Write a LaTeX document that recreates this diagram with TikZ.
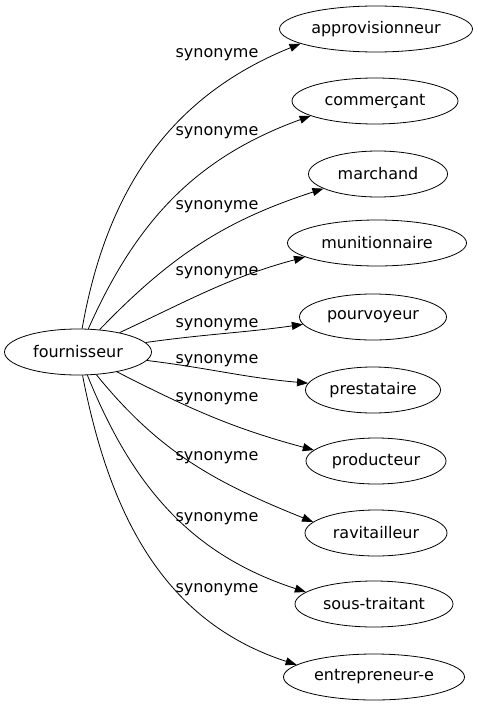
\documentclass[tikz,border=0pt]{standalone}
\usepackage{fontspec}
\setmainfont{DejaVu Sans}
\usetikzlibrary{shapes.geometric,arrows.meta}
\begin{document}
\begin{tikzpicture}[x=1pt,y=1pt,
  every node/.style={font=\fontsize{16}{18}\selectfont},
  term/.style={ellipse,draw,line width=0.8pt,inner xsep=0pt,inner ysep=0pt,minimum height=46pt},
  lbl/.style={inner sep=0pt,anchor=base},
  syn/.style={-{Triangle[length=11pt,width=8pt]},line width=0.8pt}]
\useasboundingbox (0,0) rectangle (477,-707);
\node[term,minimum width=147pt] (f) at (78,-352) {fournisseur};
\node[term,minimum width=193pt] (a) at (376,-29) {approvisionneur};
\node[term,minimum width=166pt] (b) at (375,-101) {commerçant};
\node[term,minimum width=139pt] (c) at (378,-174) {marchand};
\node[term,minimum width=179pt] (d) at (377,-243) {munitionnaire};
\node[term,minimum width=147pt] (e) at (373,-317) {pourvoyeur};
\node[term,minimum width=135pt] (g) at (373,-390) {prestataire};
\node[term,minimum width=140pt] (h) at (376,-461) {producteur};
\node[term,minimum width=142pt] (i) at (376,-533) {ravitailleur};
\node[term,minimum width=158pt] (j) at (374,-604) {sous-traitant};
\node[term,minimum width=181pt] (k) at (374,-677) {entrepreneur-e};
\node[lbl] (l1) at (217,-57) {synonyme};
\node[lbl] (l2) at (217,-135) {synonyme};
\node[lbl] (l3) at (217,-209) {synonyme};
\node[lbl] (l4) at (217,-275) {synonyme};
\node[lbl] (l5) at (217,-327) {synonyme};
\node[lbl] (l6) at (217,-363) {synonyme};
\node[lbl] (l7) at (217,-401) {synonyme};
\node[lbl] (l8) at (217,-460) {synonyme};
\node[lbl] (l9) at (217,-521) {synonyme};
\node[lbl] (l10) at (217,-592) {synonyme};
\draw[syn] (f.80) to[out=80,in=202] (a.191);
\draw[syn] (f.66) to[out=66,in=200] (b.193);
\draw[syn] (f.46) to[out=46,in=198] (c.195);
\draw[syn] (f.25) to[out=25,in=195] (d.191);
\draw[syn] (f.8) to[out=8,in=188] (e.186);
\draw[syn] (f.-7) to[out=-7,in=175] (g.174);
\draw[syn] (f.-27) to[out=-27,in=165] (h.170);
\draw[syn] (f.-51) to[out=-51,in=158] (i.170);
\draw[syn] (f.-68) to[out=-68,in=162] (j.170);
\draw[syn] (f.-79) to[out=-79,in=162] (k.171);
\end{tikzpicture}
\end{document}
